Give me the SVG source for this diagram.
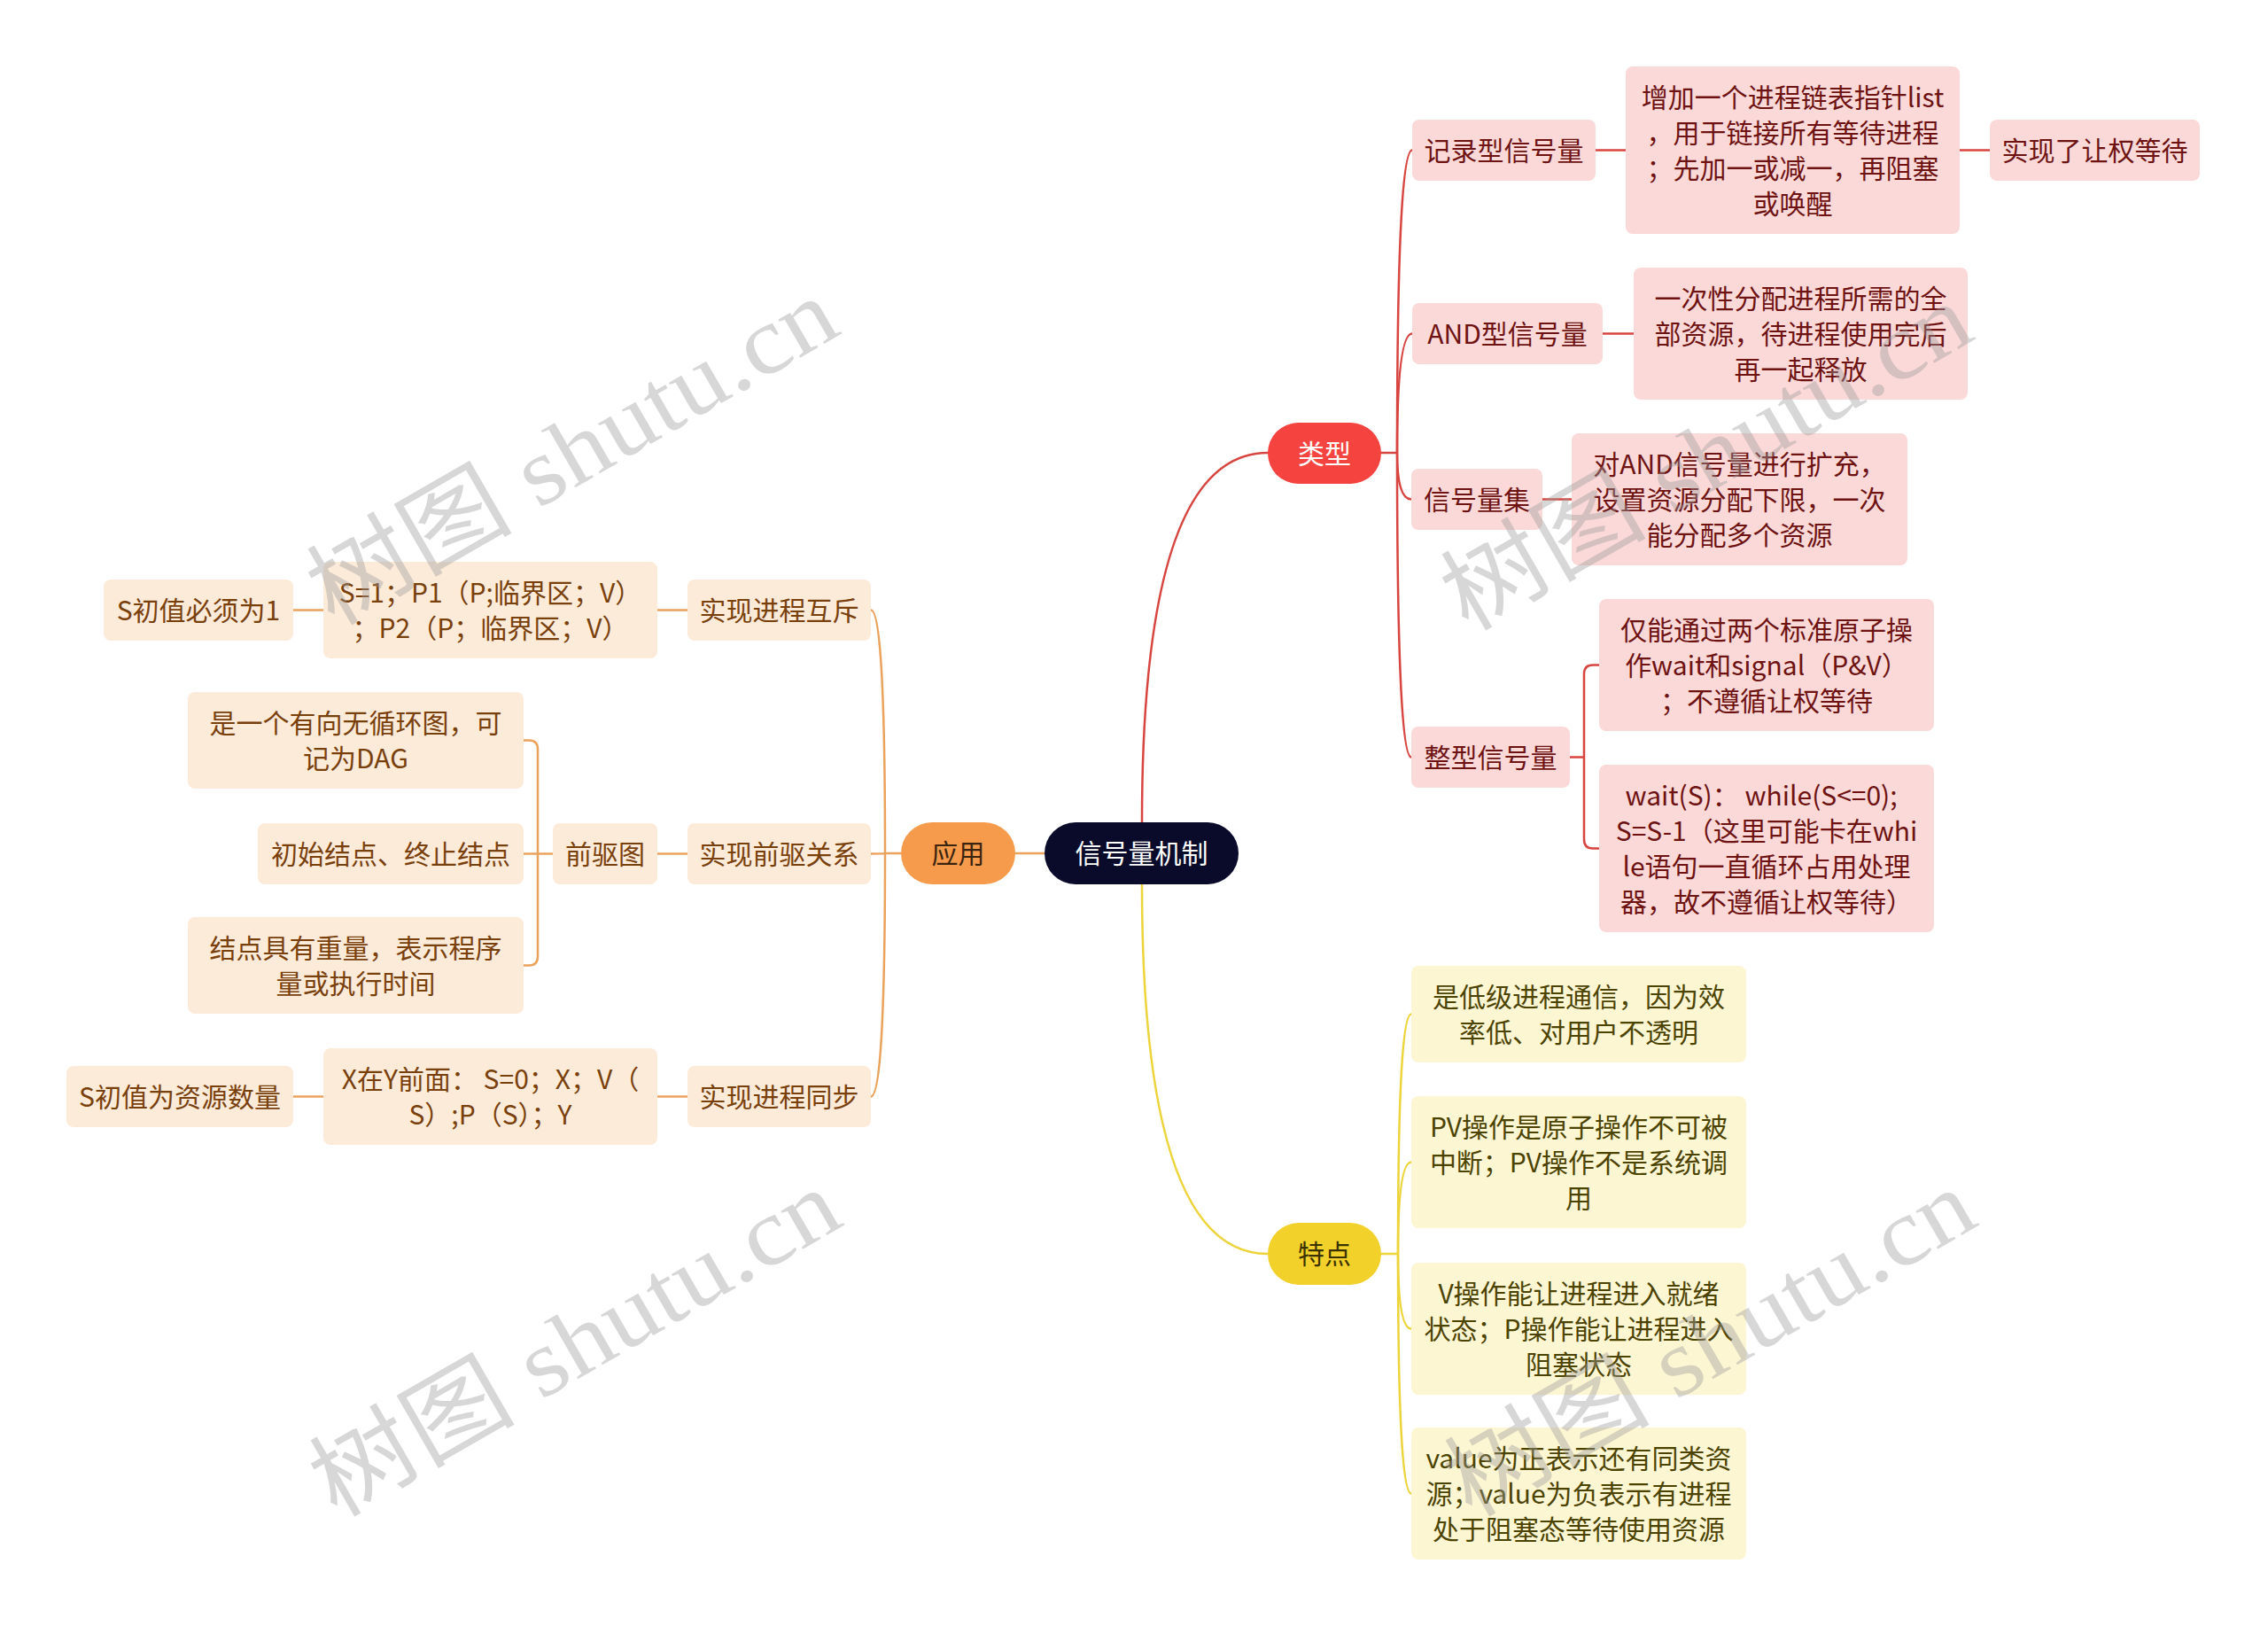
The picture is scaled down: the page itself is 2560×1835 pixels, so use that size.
<svg xmlns="http://www.w3.org/2000/svg" width="2560" height="1835" viewBox="0 0 2560 1835">
<style>
text{font-family:"Noto Sans CJK SC","Noto Sans",sans-serif;font-size:30px;text-anchor:middle;dominant-baseline:central}
g[id^="n-"] text,g[id^="b-"] text,#root text{transform:translateY(-2px)}
.rb{fill:#fcd9d9}.rt{fill:#6e1212}
.ob{fill:#fdebd9}.ot{fill:#7a400c}
.yb{fill:#fdf6d3}.yt{fill:#4d4300}
.cr{fill:none;stroke:#d8443f;stroke-width:2.5}
.co{fill:none;stroke:#eba25c;stroke-width:2.5}
.cy{fill:none;stroke:#edd43a;stroke-width:2.5}
.wm{font-family:"Liberation Serif","Noto Sans CJK SC",serif;font-size:108px;fill:#9a9a9a;fill-opacity:0.4}
</style>
<rect width="2560" height="1835" fill="#ffffff"/>
<g id="connectors">
<path class="cr" d="M1289 928 Q1289 511 1431 511"/>
<path class="cy" d="M1289 998 Q1289 1415 1431 1415"/>
<path class="co" d="M1179 963 H1146"/>
<path class="cr" d="M1559 511 H1577"/>
<path class="cr" d="M1577 511 Q1577 169.5 1594 169.5"/>
<path class="cr" d="M1577 511 Q1577 376.5 1594 376.5"/>
<path class="cr" d="M1577 511 Q1577 563.5 1593 563.5"/>
<path class="cr" d="M1577 511 Q1577 854.5 1593 854.5"/>
<path class="cr" d="M1801 169.5 H1835"/>
<path class="cr" d="M2212 169.5 H2246"/>
<path class="cr" d="M1809 376.5 H1844"/>
<path class="cr" d="M1741 563.5 H1774"/>
<path class="cr" d="M1772 854.5 H1788"/>
<path class="cr" d="M1805 750.5 H1798 Q1788 750.5 1788 760.5 V947.5 Q1788 957.5 1798 957.5 H1805"/>
<path class="cy" d="M1559 1415 H1578"/>
<path class="cy" d="M1578 1415 Q1578 1144.5 1593 1144.5"/>
<path class="cy" d="M1578 1415 Q1578 1311.5 1593 1311.5"/>
<path class="cy" d="M1578 1415 Q1578 1499.5 1593 1499.5"/>
<path class="cy" d="M1578 1415 Q1578 1685.5 1593 1685.5"/>
<path class="co" d="M1017 963 H999"/>
<path class="co" d="M999 963 Q999 688.5 983 688.5"/>
<path class="co" d="M999 963 Q999 963.5 983 963.5"/>
<path class="co" d="M999 963 Q999 1237.5 983 1237.5"/>
<path class="co" d="M742 688.5 H776"/>
<path class="co" d="M331 688.5 H365"/>
<path class="co" d="M742 963.5 H776"/>
<path class="co" d="M624 963.5 H591"/>
<path class="co" d="M591 835.5 H597 Q607 835.5 607 845.5 V1079.5 Q607 1089.5 597 1089.5 H591"/>
<path class="co" d="M742 1237.5 H776"/>
<path class="co" d="M331 1237.5 H365"/>
</g>
<g id="root">
<rect x="1179" y="928" width="219" height="70" rx="35" fill="#0a0a2a"/>
<text x="1288.5" y="963" fill="#ffffff">信号量机制</text>
</g>
<g id="b-type">
<rect x="1431" y="477" width="128" height="69" rx="34.5" fill="#f5433f"/>
<text x="1495" y="511.5" fill="#ffffff">类型</text>
</g>
<g id="b-app">
<rect x="1017" y="928" width="129" height="70" rx="35" fill="#f59b4b"/>
<text x="1081.5" y="963" fill="#3a2410">应用</text>
</g>
<g id="b-feat">
<rect x="1431" y="1380" width="128" height="70" rx="35" fill="#f2d12a"/>
<text x="1495" y="1415" fill="#3a3200">特点</text>
</g>
<g id="n-record">
<rect class="rb" x="1594" y="135" width="207" height="69" rx="8"/>
<text class="rt" x="1697.5" y="169.5">记录型信号量</text>
</g>
<g id="n-record-1">
<rect class="rb" x="1835" y="75" width="377" height="189" rx="8"/>
<text class="rt" x="2023.5" y="109.5">增加一个进程链表指针list</text>
<text class="rt" x="2023.5" y="149.5">，用于链接所有等待进程</text>
<text class="rt" x="2023.5" y="189.5">；先加一或减一，再阻塞</text>
<text class="rt" x="2023.5" y="229.5">或唤醒</text>
</g>
<g id="n-record-2">
<rect class="rb" x="2246" y="135" width="237" height="69" rx="8"/>
<text class="rt" x="2364.5" y="169.5">实现了让权等待</text>
</g>
<g id="n-and">
<rect class="rb" x="1594" y="342" width="215" height="69" rx="8"/>
<text class="rt" x="1701.5" y="376.5">AND型信号量</text>
</g>
<g id="n-and-1">
<rect class="rb" x="1844" y="302" width="377" height="149" rx="8"/>
<text class="rt" x="2032.5" y="336.5">一次性分配进程所需的全</text>
<text class="rt" x="2032.5" y="376.5">部资源，待进程使用完后</text>
<text class="rt" x="2032.5" y="416.5">再一起释放</text>
</g>
<g id="n-set">
<rect class="rb" x="1593" y="529" width="148" height="69" rx="8"/>
<text class="rt" x="1667" y="563.5">信号量集</text>
</g>
<g id="n-set-1">
<rect class="rb" x="1774" y="489" width="379" height="149" rx="8"/>
<text class="rt" x="1963.5" y="523.5">对AND信号量进行扩充，</text>
<text class="rt" x="1963.5" y="563.5">设置资源分配下限，一次</text>
<text class="rt" x="1963.5" y="603.5">能分配多个资源</text>
</g>
<g id="n-int">
<rect class="rb" x="1593" y="820" width="179" height="69" rx="8"/>
<text class="rt" x="1682.5" y="854.5">整型信号量</text>
</g>
<g id="n-int-1">
<rect class="rb" x="1805" y="676" width="378" height="149" rx="8"/>
<text class="rt" x="1994" y="710.5">仅能通过两个标准原子操</text>
<text class="rt" x="1994" y="750.5">作wait和signal（P&amp;V）</text>
<text class="rt" x="1994" y="790.5">；不遵循让权等待</text>
</g>
<g id="n-int-2">
<rect class="rb" x="1805" y="863" width="378" height="189" rx="8"/>
<text class="rt" x="1988" y="897.5">wait(S)：  while(S&lt;=0);</text>
<text class="rt" x="1994" y="937.5">S=S-1（这里可能卡在whi</text>
<text class="rt" x="1994" y="977.5">le语句一直循环占用处理</text>
<text class="rt" x="1994" y="1017.5">器，故不遵循让权等待）</text>
</g>
<g id="n-f1">
<rect class="yb" x="1593" y="1090" width="378" height="109" rx="8"/>
<text class="yt" x="1782" y="1124.5">是低级进程通信，因为效</text>
<text class="yt" x="1782" y="1164.5">率低、对用户不透明</text>
</g>
<g id="n-f2">
<rect class="yb" x="1593" y="1237" width="378" height="149" rx="8"/>
<text class="yt" x="1782" y="1271.5">PV操作是原子操作不可被</text>
<text class="yt" x="1782" y="1311.5">中断；PV操作不是系统调</text>
<text class="yt" x="1782" y="1351.5">用</text>
</g>
<g id="n-f3">
<rect class="yb" x="1593" y="1425" width="378" height="149" rx="8"/>
<text class="yt" x="1782" y="1459.5">V操作能让进程进入就绪</text>
<text class="yt" x="1782" y="1499.5">状态；P操作能让进程进入</text>
<text class="yt" x="1782" y="1539.5">阻塞状态</text>
</g>
<g id="n-f4">
<rect class="yb" x="1593" y="1611" width="378" height="149" rx="8"/>
<text class="yt" x="1782" y="1645.5">value为正表示还有同类资</text>
<text class="yt" x="1782" y="1685.5">源；value为负表示有进程</text>
<text class="yt" x="1782" y="1725.5">处于阻塞态等待使用资源</text>
</g>
<g id="n-mutex">
<rect class="ob" x="776" y="654" width="207" height="69" rx="8"/>
<text class="ot" x="879.5" y="688.5">实现进程互斥</text>
</g>
<g id="n-mutex-1">
<rect class="ob" x="365" y="634" width="377" height="109" rx="8"/>
<text class="ot" x="553.5" y="668.5">S=1；P1（P;临界区；V）</text>
<text class="ot" x="553.5" y="708.5">；P2（P；临界区；V）</text>
</g>
<g id="n-mutex-2">
<rect class="ob" x="117" y="654" width="214" height="69" rx="8"/>
<text class="ot" x="224" y="688.5">S初值必须为1</text>
</g>
<g id="n-prec">
<rect class="ob" x="776" y="929" width="207" height="69" rx="8"/>
<text class="ot" x="879.5" y="963.5">实现前驱关系</text>
</g>
<g id="n-graph">
<rect class="ob" x="624" y="929" width="118" height="69" rx="8"/>
<text class="ot" x="683" y="963.5">前驱图</text>
</g>
<g id="n-graph-1">
<rect class="ob" x="212" y="781" width="379" height="109" rx="8"/>
<text class="ot" x="401.5" y="815.5">是一个有向无循环图，可</text>
<text class="ot" x="401.5" y="855.5">记为DAG</text>
</g>
<g id="n-graph-2">
<rect class="ob" x="291" y="929" width="300" height="69" rx="8"/>
<text class="ot" x="441" y="963.5">初始结点、终止结点</text>
</g>
<g id="n-graph-3">
<rect class="ob" x="212" y="1035" width="379" height="109" rx="8"/>
<text class="ot" x="401.5" y="1069.5">结点具有重量，表示程序</text>
<text class="ot" x="401.5" y="1109.5">量或执行时间</text>
</g>
<g id="n-sync">
<rect class="ob" x="776" y="1203" width="207" height="69" rx="8"/>
<text class="ot" x="879.5" y="1237.5">实现进程同步</text>
</g>
<g id="n-sync-1">
<rect class="ob" x="365" y="1183" width="377" height="109" rx="8"/>
<text class="ot" x="553.5" y="1217.5">X在Y前面：  S=0；X；V（</text>
<text class="ot" x="553.5" y="1257.5">S）;P（S）；Y</text>
</g>
<g id="n-sync-2">
<rect class="ob" x="75" y="1203" width="256" height="69" rx="8"/>
<text class="ot" x="203" y="1237.5">S初值为资源数量</text>
</g>
<g id="watermarks">
<text class="wm" x="646" y="510" transform="rotate(-30 646 510)" textLength="665" lengthAdjust="spacingAndGlyphs">树图 shutu.cn</text>
<text class="wm" x="1926" y="516" transform="rotate(-30 1926 516)" textLength="665" lengthAdjust="spacingAndGlyphs">树图 shutu.cn</text>
<text class="wm" x="649" y="1516" transform="rotate(-30 649 1516)" textLength="665" lengthAdjust="spacingAndGlyphs">树图 shutu.cn</text>
<text class="wm" x="1930" y="1516" transform="rotate(-30 1930 1516)" textLength="665" lengthAdjust="spacingAndGlyphs">树图 shutu.cn</text>
</g>
</svg>
